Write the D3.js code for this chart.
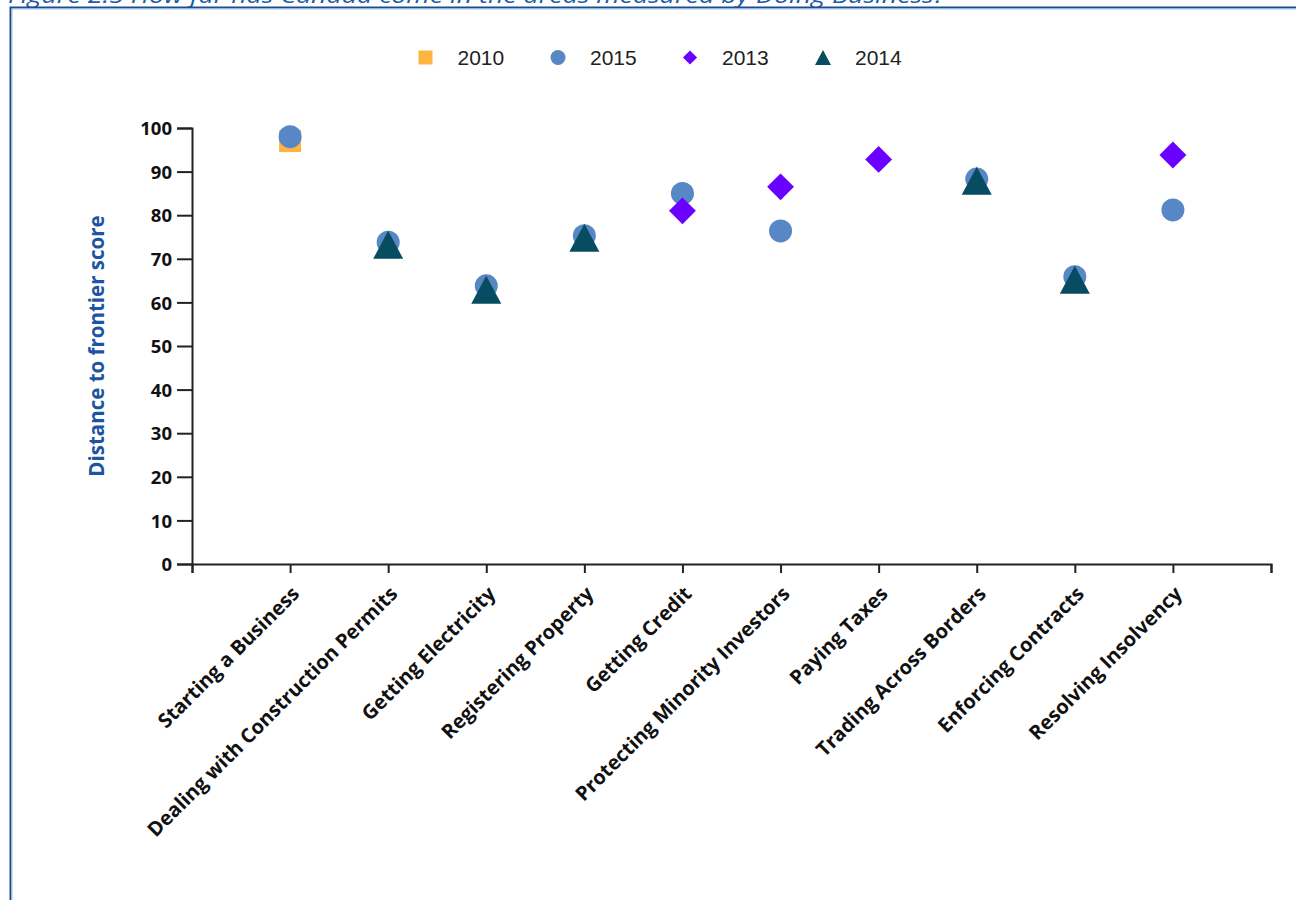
<!DOCTYPE html>
<html>
<head>
<meta charset="utf-8">
<script src="https://cdn.jsdelivr.net/npm/d3@7"></script>
<style>
  html, body { margin: 0; padding: 0; background: #ffffff; }
  svg { display: block; }
</style>
</head>
<body>
<svg id="chart" width="1296" height="900"></svg>
<script>
// ---------- data ----------
const titleText = "Figure 2.5 How far has Canada come in the areas measured by Doing Business?";
const yAxisTitle = "Distance to frontier score";
const categories = [
  "Starting a Business",
  "Dealing with Construction Permits",
  "Getting Electricity",
  "Registering Property",
  "Getting Credit",
  "Protecting Minority Investors",
  "Paying Taxes",
  "Trading Across Borders",
  "Enforcing Contracts",
  "Resolving Insolvency"
];
const seriesNames = ["2010", "2015", "2013", "2014"];
const values2010 = [97.0, null, null, null, null, null, null, null, null, null];
const values2015 = [98.0, 73.8, 63.8, 75.3, 85.0, 76.4, null, 88.3, 65.9, 81.2];
const values2013 = [null, null, null, null, 81.0, 86.5, 92.8, null, null, 93.8];
const values2014 = [null, 73.2, 62.9, 74.8, null, null, null, 87.9, 65.2, null];
const yTicks = [0, 10, 20, 30, 40, 50, 60, 70, 80, 90, 100];

// ---------- styles ----------
const colors = { "2010": "#fdb440", "2015": "#5787c4", "2013": "#6a00ff", "2014": "#074c61" };
const labelFont = "'Open Sans', 'Noto Sans', sans-serif";

// custom triangle centred on its bounding box
function triangleType(w, h) {
  return { draw(ctx) {
    ctx.moveTo(0, -h / 2);
    ctx.lineTo(w / 2, h / 2);
    ctx.lineTo(-w / 2, h / 2);
    ctx.closePath();
  }};
}
const shapes = {
  "2010": { type: d3.symbolSquare, size: 22 * 22, rotate: 0 },
  "2015": { type: d3.symbolCircle, size: Math.PI * 11.5 * 11.5, rotate: 0 },
  "2013": { type: d3.symbolSquare, size: 19 * 19, rotate: 45 },
  "2014": { type: triangleType(30, 28), size: 1, rotate: 0 }
};
const legendShapes = {
  "2010": { type: d3.symbolSquare, size: 14 * 14, rotate: 0 },
  "2015": { type: d3.symbolCircle, size: Math.PI * 7.5 * 7.5, rotate: 0 },
  "2013": { type: d3.symbolSquare, size: 10 * 10, rotate: 45 },
  "2014": { type: triangleType(16, 15), size: 1, rotate: 0 }
};

const svg = d3.select("#chart");
svg.append("rect").attr("width", 1296).attr("height", 900).attr("fill", "#fff");

// title (cut off at top, as in the reference)
svg.append("text")
  .attr("x", 8).attr("y", 3)
  .attr("textLength", 937).attr("lengthAdjust", "spacingAndGlyphs")
  .style("font-family", labelFont)
  .style("font-style", "italic")
  .style("font-size", "22px")
  .attr("fill", "#1f5ba8")
  .text(titleText);

// frame
svg.append("path").attr("d", "M10.5,900 V7.5 H1296")
  .attr("fill", "none").attr("stroke", "#1a4f8f").attr("stroke-width", 2);
svg.append("path").attr("d", "M12,900 V9 H1296")
  .attr("fill", "none").attr("stroke", "#a9c3e3").attr("stroke-width", 1);

// scales
const x = d3.scaleLinear().domain([0, categories.length + 1]).range([192, 1271]);
const y = d3.scaleLinear().domain([0, 100]).range([564, 128]);

// y axis
const yAxis = svg.append("g").attr("transform", "translate(192,0)")
  .call(d3.axisLeft(y).tickValues(yTicks).tickSize(15).tickPadding(5));
yAxis.select(".domain").attr("stroke", "#222").attr("stroke-width", 2);
yAxis.selectAll(".tick line").attr("stroke", "#222").attr("stroke-width", 2);
yAxis.selectAll(".tick text")
  .attr("dy", "0.36em")
  .style("font-family", labelFont)
  .style("font-weight", "bold")
  .style("font-size", "18.5px")
  .attr("fill", "#111");

// x axis
const xAxis = svg.append("g").attr("transform", "translate(0,564)")
  .call(d3.axisBottom(x)
    .tickValues(d3.range(0, categories.length + 2))
    .tickSize(9)
    .tickFormat(i => categories[i - 1] || ""));
xAxis.select(".domain").attr("stroke", "#222").attr("stroke-width", 2);
xAxis.selectAll(".tick line").attr("stroke", "#222").attr("stroke-width", 2);
xAxis.selectAll(".tick text")
  .attr("x", 0).attr("y", 0).attr("dy", 0)
  .attr("transform", "translate(10,31) rotate(-45)")
  .style("text-anchor", "end")
  .style("font-family", labelFont)
  .style("font-weight", "bold")
  .style("font-size", "20px")
  .attr("fill", "#111");

// y axis title
svg.append("text")
  .attr("transform", "translate(104,346) rotate(-90)")
  .style("text-anchor", "middle")
  .style("font-family", labelFont)
  .style("font-weight", "bold")
  .style("font-size", "20.5px")
  .attr("fill", "#1d55a0")
  .text(yAxisTitle);

// points
const seriesValues = { "2010": values2010, "2015": values2015, "2013": values2013, "2014": values2014 };
seriesNames.forEach(name => {
  const sh = shapes[name];
  const pts = seriesValues[name].map((v, i) => ({ i, v })).filter(d => d.v != null);
  svg.append("g").selectAll("path").data(pts).join("path")
    .attr("d", d3.symbol().type(sh.type).size(sh.size))
    .attr("transform", d => `translate(${x(d.i + 1)},${y(d.v)}) rotate(${sh.rotate})`)
    .attr("fill", colors[name]);
});

// legend
const legendX = [425.5, 558, 690, 823];
const legend = svg.append("g");
seriesNames.forEach((name, k) => {
  const sh = legendShapes[name];
  legend.append("path")
    .attr("d", d3.symbol().type(sh.type).size(sh.size))
    .attr("transform", `translate(${legendX[k]},57.5) rotate(${sh.rotate})`)
    .attr("fill", colors[name]);
  legend.append("text")
    .attr("x", legendX[k] + 32).attr("y", 65)
    .style("font-family", "'Liberation Sans', Arial, sans-serif")
    .style("font-size", "21px")
    .attr("fill", "#222")
    .text(name);
});
</script>
</body>
</html>
